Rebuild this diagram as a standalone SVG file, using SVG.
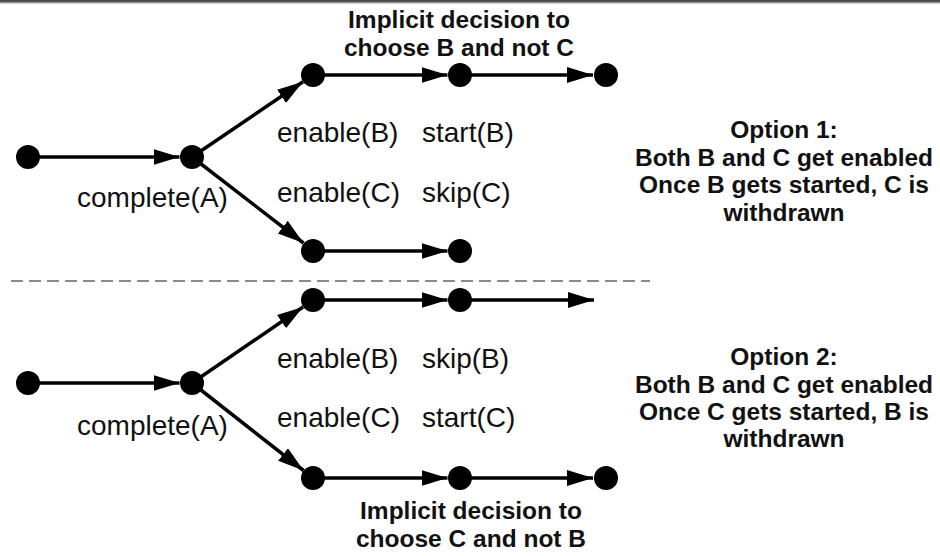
<svg xmlns="http://www.w3.org/2000/svg" width="940" height="556" viewBox="0 0 940 556">
  <style>
    .node { fill: #000; }
    .edge { stroke: #000; stroke-width: 3.5; fill: none; marker-end: url(#arrow); }
    .lbl { font-family: "Liberation Sans", Arial, sans-serif; font-size: 28px; fill: #111; }
    .note { font-family: "Liberation Sans", Arial, sans-serif; font-size: 24.5px; font-weight: bold; fill: #111; text-anchor: middle; }
    .divider { stroke: #8a8a8a; stroke-width: 2; stroke-dasharray: 12 6; }
  </style>
  <defs>
    <marker id="arrow" markerUnits="userSpaceOnUse" markerWidth="28" markerHeight="18" refX="26" refY="8" orient="auto">
      <path d="M0,0 L26,8 L0,16 Z" fill="#000"/>
    </marker>
  </defs>

  <rect x="0" y="0" width="940" height="556" fill="#fff"/>
  <!-- top frame edge -->
  <rect x="0" y="0" width="940" height="2" fill="#4a4a4a"/>
  <rect x="0" y="2" width="940" height="1.5" fill="#9a9a9a"/>

  <!-- separator between the two options -->
  <line class="divider" x1="11" y1="281" x2="650" y2="281"/>

  <g id="connectors">
    <!-- option 1 -->
    <line class="edge" x1="28" y1="157" x2="179.5" y2="157"/>
    <line class="edge" x1="192" y1="157" x2="303" y2="81.7"/>
    <line class="edge" x1="192" y1="157" x2="303.4" y2="243"/>
    <line class="edge" x1="313" y1="75" x2="447.5" y2="75"/>
    <line class="edge" x1="460" y1="75" x2="593" y2="75"/>
    <line class="edge" x1="313" y1="251" x2="447.5" y2="251"/>
    <!-- option 2 -->
    <line class="edge" x1="28" y1="383" x2="179.5" y2="383"/>
    <line class="edge" x1="192" y1="383" x2="303" y2="307"/>
    <line class="edge" x1="192" y1="383" x2="303.5" y2="470.5"/>
    <line class="edge" x1="313" y1="300" x2="447.5" y2="300"/>
    <line class="edge" x1="460" y1="300" x2="594" y2="300"/>
    <line class="edge" x1="313" y1="478" x2="447.5" y2="478"/>
    <line class="edge" x1="460" y1="478" x2="593" y2="478"/>
  </g>

  <!-- option 1 states -->
  <g id="o1-start"><circle class="node" cx="28" cy="157" r="12"/></g>
  <g id="o1-a"><circle class="node" cx="192" cy="157" r="12"/></g>
  <g id="o1-b1"><circle class="node" cx="313" cy="75" r="12"/></g>
  <g id="o1-b2"><circle class="node" cx="460" cy="75" r="12"/></g>
  <g id="o1-b3"><circle class="node" cx="606" cy="75" r="12"/></g>
  <g id="o1-c1"><circle class="node" cx="313" cy="251" r="12"/></g>
  <g id="o1-c2"><circle class="node" cx="460" cy="251" r="12"/></g>

  <!-- option 2 states -->
  <g id="o2-start"><circle class="node" cx="28" cy="383" r="12"/></g>
  <g id="o2-a"><circle class="node" cx="192" cy="383" r="12"/></g>
  <g id="o2-b1"><circle class="node" cx="313" cy="300" r="12"/></g>
  <g id="o2-b2"><circle class="node" cx="460" cy="300" r="12"/></g>
  <g id="o2-c1"><circle class="node" cx="313" cy="478" r="12"/></g>
  <g id="o2-c2"><circle class="node" cx="460" cy="478" r="12"/></g>
  <g id="o2-c3"><circle class="node" cx="606" cy="478" r="12"/></g>

  <!-- transition labels -->
  <g id="labels">
    <text class="lbl" x="77" y="207">complete(A)</text>
    <text class="lbl" x="277" y="142">enable(B)</text>
    <text class="lbl" x="422" y="142">start(B)</text>
    <text class="lbl" x="277" y="202">enable(C)</text>
    <text class="lbl" x="422" y="202">skip(C)</text>

    <text class="lbl" x="77" y="435">complete(A)</text>
    <text class="lbl" x="277" y="368">enable(B)</text>
    <text class="lbl" x="422" y="368">skip(B)</text>
    <text class="lbl" x="277" y="427">enable(C)</text>
    <text class="lbl" x="422" y="427">start(C)</text>
  </g>

  <!-- annotations -->
  <g id="note-decision-b">
    <text class="note" x="459" y="28">Implicit decision to</text>
    <text class="note" x="459" y="56">choose B and not C</text>
  </g>
  <g id="note-option-1">
    <text class="note" x="784" y="138">Option 1:</text>
    <text class="note" x="784" y="165.5">Both B and C get enabled</text>
    <text class="note" x="784" y="193">Once B gets started, C is</text>
    <text class="note" x="784" y="220.5">withdrawn</text>
  </g>
  <g id="note-option-2">
    <text class="note" x="784" y="365">Option 2:</text>
    <text class="note" x="784" y="392.5">Both B and C get enabled</text>
    <text class="note" x="784" y="420">Once C gets started, B is</text>
    <text class="note" x="784" y="447">withdrawn</text>
  </g>
  <g id="note-decision-c">
    <text class="note" x="471" y="519">Implicit decision to</text>
    <text class="note" x="471" y="547">choose C and not B</text>
  </g>
</svg>
